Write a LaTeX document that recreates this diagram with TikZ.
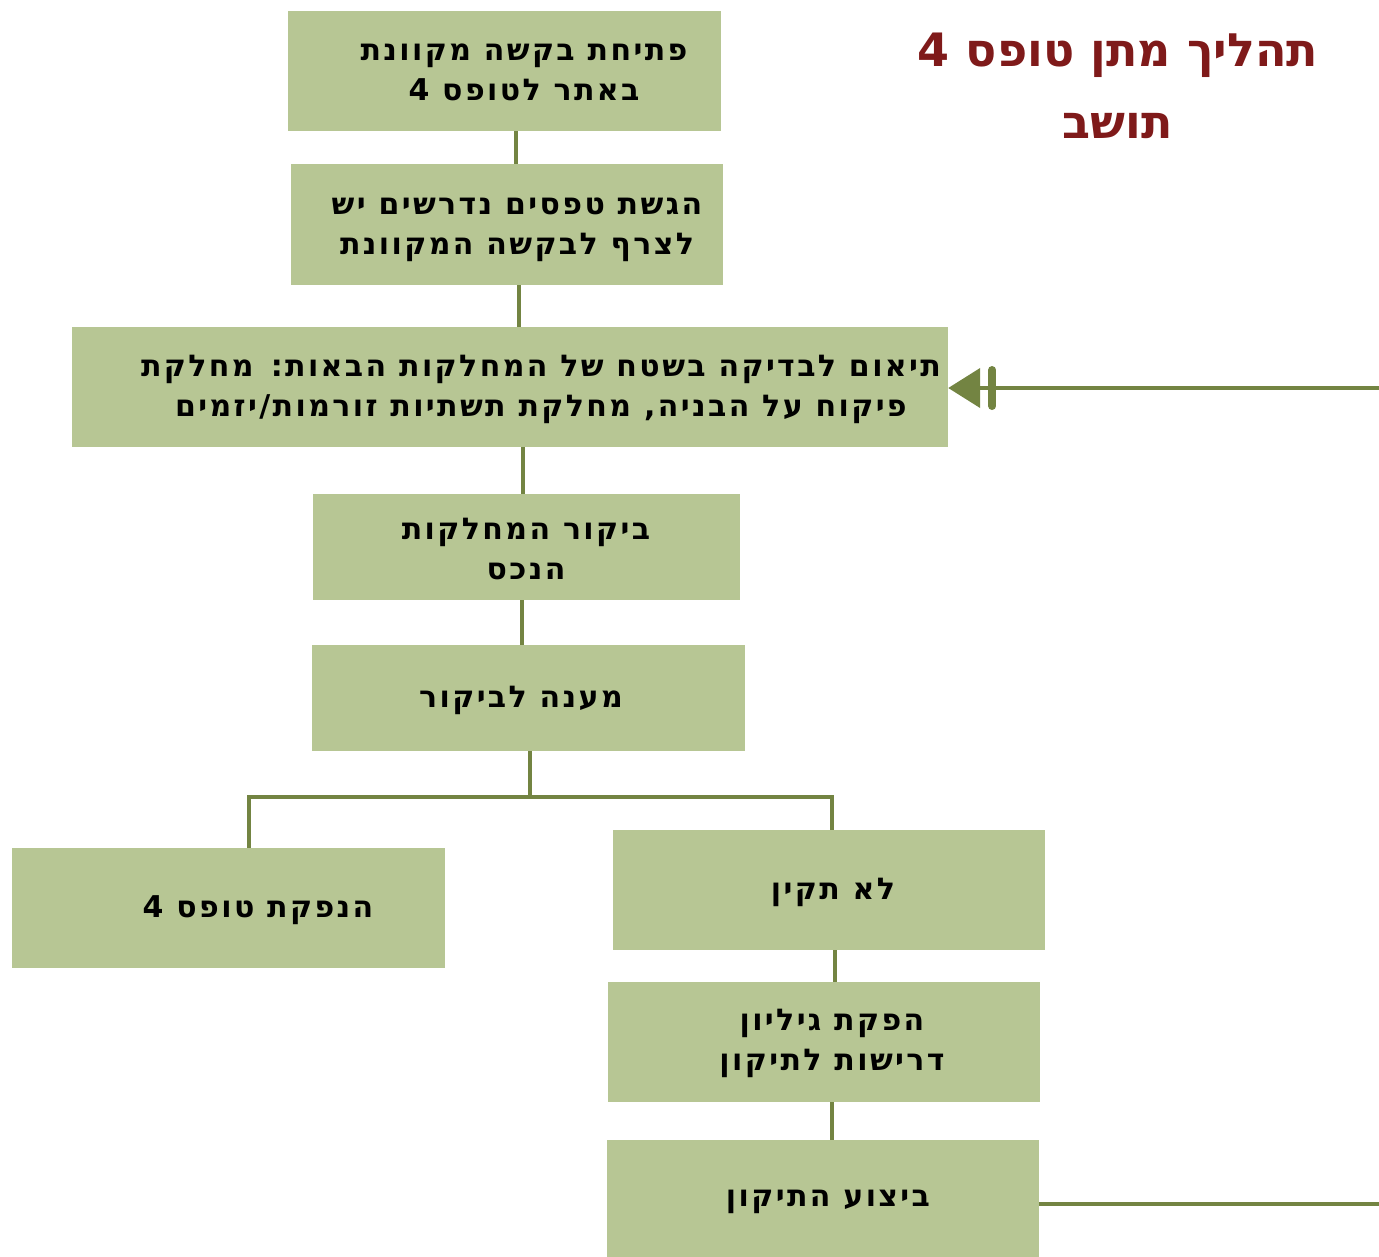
\documentclass[tikz,border=0pt]{standalone}
\usepackage{fontspec}
\usetikzlibrary{arrows.meta}
\TeXXeTstate=1
\newfontfamily\hebfont[Script=Hebrew,LetterSpace=8]{DejaVu Sans}
\newfontfamily\titlefont[Script=Hebrew]{DejaVu Sans}
\definecolor{boxgreen}{HTML}{B7C694}
\definecolor{olive}{HTML}{738442}
\definecolor{titlered}{HTML}{7F1A1A}
\tikzset{
  stepbox/.style={draw=none,fill=boxgreen,rectangle,inner sep=0pt},
  steptext/.style={font=\hebfont\bfseries\fontsize{30}{40}\selectfont,align=center,inner sep=0pt,text=black},
  conn/.style={draw=olive,line width=4.5pt},
}
\begin{document}
\begin{tikzpicture}[x=1pt,y=-1pt]
\useasboundingbox (0,0) rectangle (1379,1256);
% boxes
\node[stepbox,minimum width=433pt,minimum height=120pt] (b1) at (504.5,71) {};
\node[stepbox,minimum width=432pt,minimum height=121pt] (b2) at (507,224.5) {};
\node[stepbox,minimum width=876pt,minimum height=120pt] (b3) at (510,387) {};
\node[stepbox,minimum width=427pt,minimum height=106pt] (b4) at (526.5,547) {};
\node[stepbox,minimum width=433pt,minimum height=106pt] (b5) at (528.5,698) {};
\node[stepbox,minimum width=433pt,minimum height=120pt] (b6) at (228.5,908) {};
\node[stepbox,minimum width=432pt,minimum height=120pt] (b7) at (829,890) {};
\node[stepbox,minimum width=432pt,minimum height=120pt] (b8) at (824,1042) {};
\node[stepbox,minimum width=432pt,minimum height=120pt] (b9) at (823,1200) {};
% texts
\node[steptext] (t1) at (524,72) {\beginR פתיחת בקשה מקוונת\endR\\\beginR באתר לטופס 4\endR};
\node[steptext] (t2) at (517,230) {\beginR הגשת טפסים נדרשים יש\endR\\\beginR לצרף לבקשה המקוונת\endR};
\node[steptext] (t3) at (541,389) {\beginR תיאום לבדיקה בשטח של המחלקות הבאות: מחלקת\endR\\\beginR פיקוח על הבניה, מחלקת תשתיות זורמות/יזמים\endR};
\node[steptext] (t4) at (526,549) {\beginR ביקור המחלקות\endR\\\beginR הנכס\endR};
\node[steptext] (t5) at (521,700) {\beginR מענה לביקור\endR};
\node[steptext] (t6) at (258,910) {\beginR הנפקת טופס 4\endR};
\node[steptext] (t7) at (833,892) {\beginR לא תקין\endR};
\node[steptext] (t8) at (832,1043) {\beginR הפקת גיליון\endR\\\beginR דרישות לתיקון\endR};
\node[steptext] (t9) at (828,1202) {\beginR ביצוע התיקון\endR};
% title
\node[font=\titlefont\bfseries\fontsize{46}{72}\selectfont,text=titlered,align=center,inner sep=0pt] (title) at (1118,86) {\beginR תהליך מתן טופס 4\endR\\\beginR תושב\endR};
% connectors
\draw[conn] (b1.south -| 516,0) -- (b2.north -| 516,0);
\draw[conn] (b2.south -| 519,0) -- (b3.north -| 519,0);
\draw[conn] (b3.south -| 523,0) -- (b4.north -| 523,0);
\draw[conn] (b4.south -| 522,0) -- (b5.north -| 522,0);
\coordinate (br) at (530,797);
\draw[conn] (b5.south -| br) -- (br);
\draw[conn] (b6.north -| 249,0) |- (br) -| (b7.north -| 832,0);
\draw[conn] (b7.south -| 835,0) -- (b8.north -| 835,0);
\draw[conn] (b8.south -| 832,0) -- (b9.north -| 832,0);
\coordinate (loopA) at (1379,1204);
\coordinate (loopB) at (1379,388);
\draw[conn] (b9.east |- loopA) -- (loopA);
\draw[conn,-{Bar[width=36pt,line width=8pt,round,sep=8pt]Triangle[length=32pt,width=39pt]}] (loopB) -- (b3.east |- loopB);
\end{tikzpicture}
\end{document}
